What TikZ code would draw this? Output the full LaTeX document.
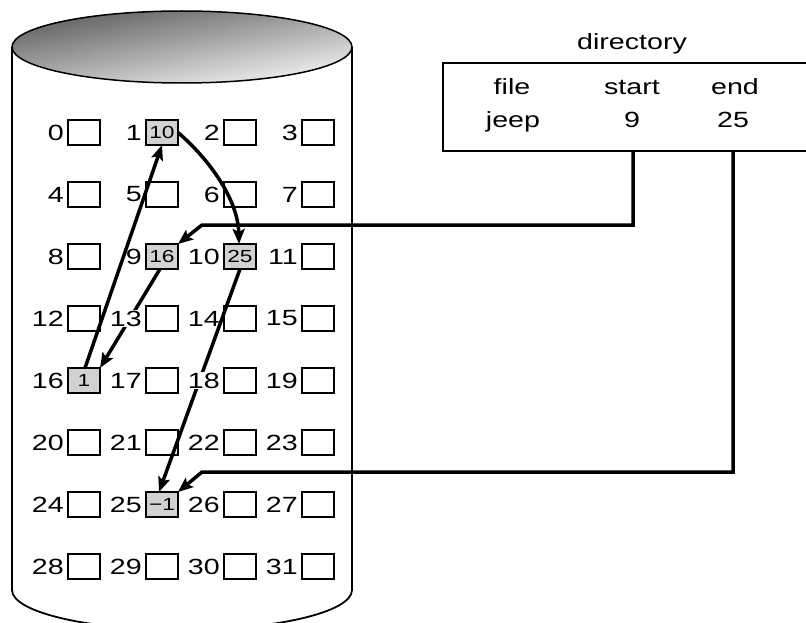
\documentclass[tikz,border=0pt]{standalone}
\usepackage{fontspec}
\setmainfont{Liberation Sans}[FakeStretch=1.3]
\usetikzlibrary{arrows.meta}
\definecolor{cellgray}{RGB}{210,210,210}
\definecolor{topdark}{RGB}{95,95,95}
\definecolor{toplight}{RGB}{245,245,245}
\begin{document}
\begin{tikzpicture}[x=1pt,y=-1pt,
  cell/.style={draw, line width=1.8pt, minimum width=32pt, minimum height=25pt, inner sep=0pt, outer sep=0pt},
  used/.style={cell, fill=cellgray, font=\fontsize{17.5}{17.5}\selectfont},
  num/.style={anchor=east, inner sep=1pt, font=\fontsize{22}{22}\selectfont},
  cut/.style={num, fill=white},
  dirtext/.style={anchor=base, inner sep=0pt, font=\fontsize{22}{22}\selectfont},
  arr/.style={line width=3.5pt, -{Stealth[length=15pt,width=12pt,inset=3pt]}},
]
\useasboundingbox (0,0) rectangle (806,623);
\clip (0,0) rectangle (806,623);

% cylinder
\draw[line width=1.8pt] (12,47) -- (12,590) arc[start angle=180,end angle=0,x radius=170,y radius=40] -- (352,47);
\begin{scope}
  \clip (182,47) ellipse [x radius=170, y radius=36];
  \foreach \k in {0,...,39}{
    \pgfmathsetmacro{\ya}{-8+2.75*\k}
    \pgfmathsetmacro{\yb}{\ya+3.2}
    \pgfmathsetmacro{\p}{100-2.5*\k}
    \fill[topdark!\p!toplight, rotate around={10:(182,47)}] (-8,\ya) rectangle (372,\yb);
  }
\end{scope}
\draw[line width=1.5pt] (182,47) ellipse [x radius=170, y radius=36];

% blocks
\foreach \i in {0,...,31}{
  \pgfmathtruncatemacro{\c}{mod(\i,4)}
  \pgfmathtruncatemacro{\r}{div(\i,4)}
  \pgfmathsetmacro{\cx}{84+78*\c}
  \pgfmathsetmacro{\cy}{132.5+62*\r}
  \ifnum\i=1 \node[used] (b\i) at (\cx,\cy) {10};
  \else\ifnum\i=9 \node[used] (b\i) at (\cx,\cy) {16};
  \else\ifnum\i=10 \node[used] (b\i) at (\cx,\cy) {25};
  \else\ifnum\i=16 \node[used] (b\i) at (\cx,\cy) {1};
  \else\ifnum\i=25 \node[used] (b\i) at (\cx,\cy) {−1};
  \else \node[cell] (b\i) at (\cx,\cy) {};
  \fi\fi\fi\fi\fi
  \ifnum\i=13 \else\ifnum\i=18 \else
    \node[num] (l\i) at ([xshift=-3pt]b\i.west) {\i};
  \fi\fi
}

% directory
\node[dirtext] (dir) at (632,50) {directory};
\draw[line width=1.5pt] (815,63) -- (443,63) -- (443,151) -- (815,151);
\node[dirtext] (hfile) at (512,95) {file};
\node[dirtext] (hstart) at (632,95) {start};
\node[dirtext] (hend) at (735,95) {end};
\node[dirtext] (vfile) at (513,128) {jeep};
\node[dirtext] (vstart) at (632,128) {9};
\node[dirtext] (vend) at (733,128) {25};

\coordinate (sdown) at (633,151);
\coordinate (edown) at (733,151);
\coordinate (sc1) at (633,225);
\coordinate (sc2) at (202,225);
\coordinate (ec1) at (733,472);
\coordinate (ec2) at (202,472);

% pointers
\draw[arr, line join=miter] (sdown) -- (sc1) -- (sc2) -- (b9.north east);
\draw[arr, line join=miter] (edown) -- (ec1) -- (ec2) -- (b25.north east);
\draw[arr] ([xshift=-2pt]b9.south) -- (b16.north east);
\draw[arr] ([xshift=1pt]b16.north) -- (b1.south);
\draw[arr] (b1.east) .. controls (210,160) and (238,200) .. ([xshift=-1pt]b10.north);
\draw[arr] (b10.south) -- ([xshift=-3pt]b25.north);

% labels that interrupt the lines
\node[cut] (l13) at ([xshift=-3pt]b13.west) {13};
\node[cut] (l18) at ([xshift=-3pt]b18.west) {18};
\end{tikzpicture}
\end{document}
